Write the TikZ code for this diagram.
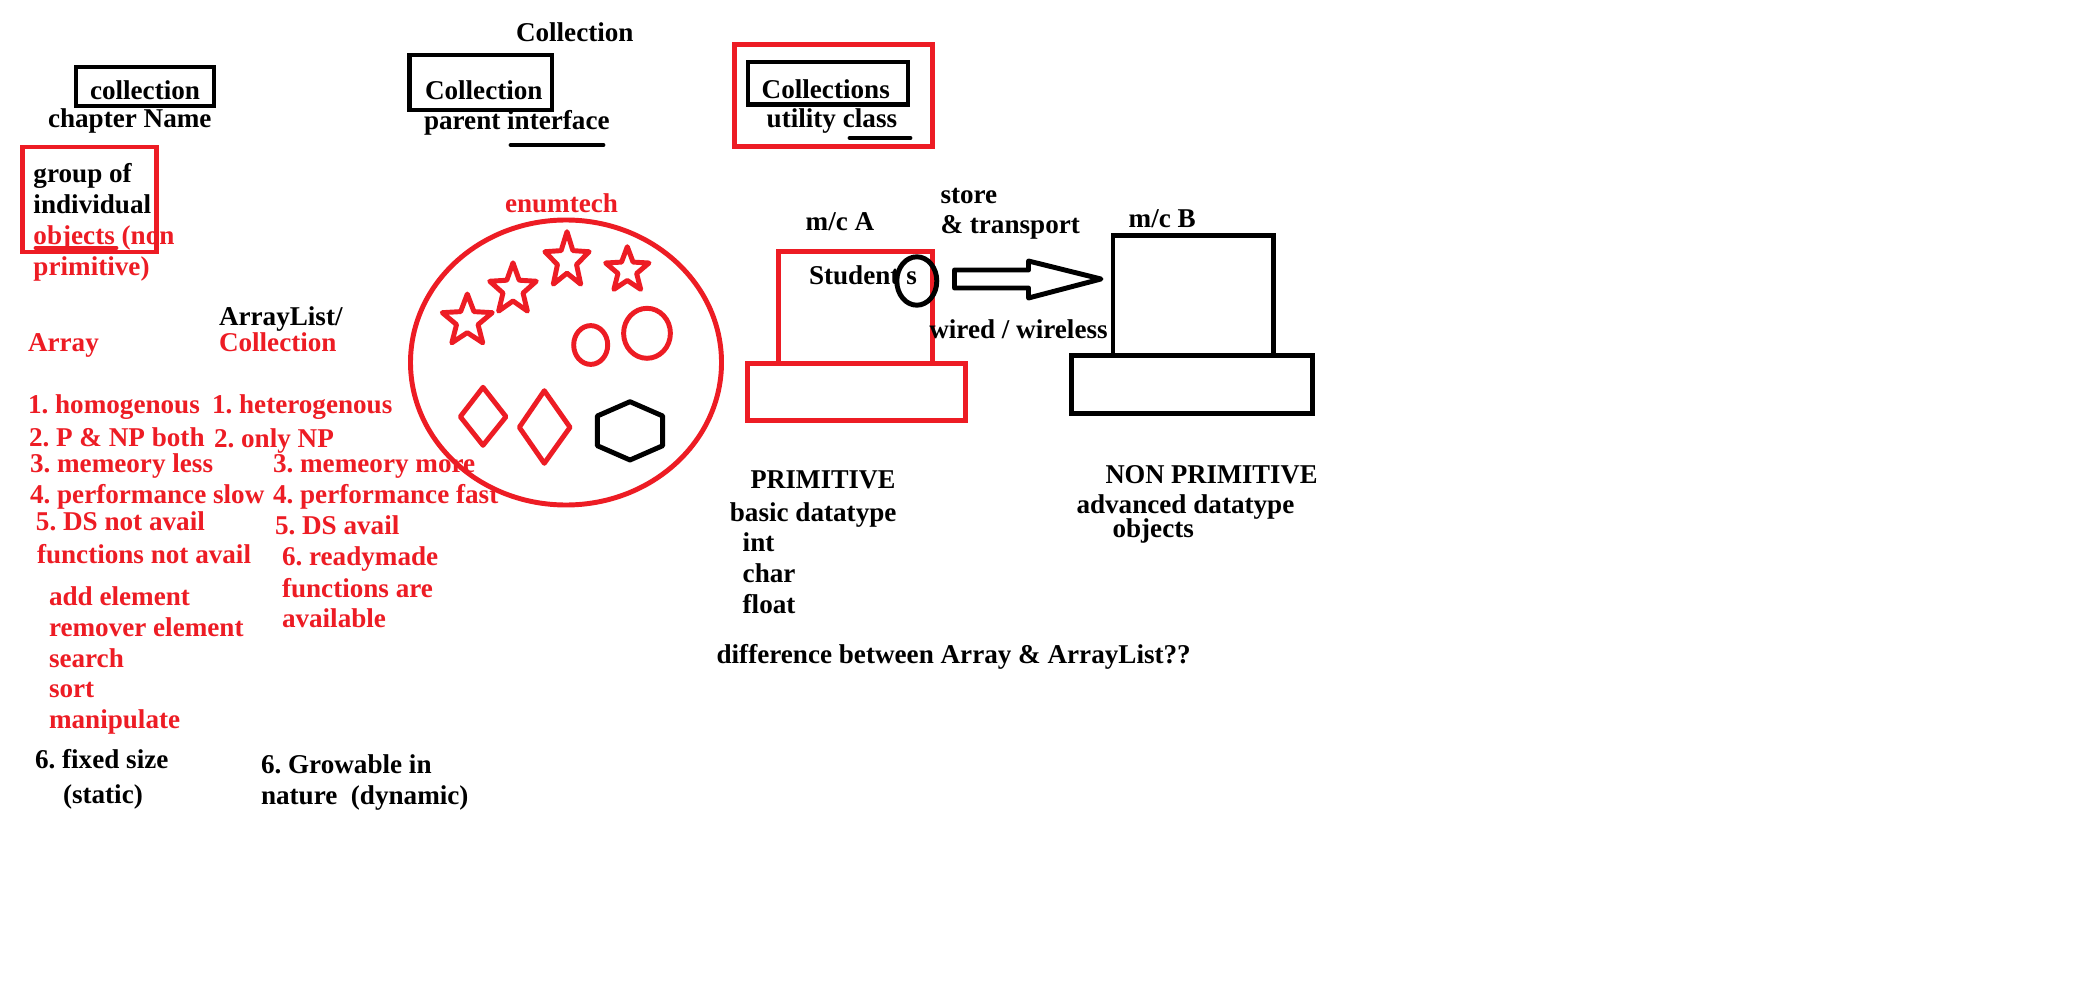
\documentclass[tikz,border=0pt]{standalone}
\usepackage{fontspec}
\setmainfont{Liberation Serif}
\definecolor{pred}{HTML}{ED1C24}
\frenchspacing
\tikzset{
  blk/.style={anchor=base west,inner sep=0pt,outer sep=0pt,text=black,yshift=-0.7pt,font=\frenchspacing\bfseries\fontsize{20.35}{24}\selectfont},
  rdt/.style={blk,text=pred},
  rline/.style={draw=pred,line width=3.7pt,miter limit=10},
  bline/.style={draw=black,line width=3.7pt},
  rsoft/.style={rline,line join=round},
  bsoft/.style={bline,line join=round},
  ulblack/.style={bline,line cap=round},
  ulred/.style={rline,line cap=round}
}
\newcommand{\starpoly}[5]{%
  \draw[#5] plot[samples at={0,...,9},variable=\t]
    ({#1+#3*(mod(\t,2)==0?1:0.43)*sin(36*\t)},{#2-#4*(mod(\t,2)==0?1:0.43)*cos(36*\t)}) -- cycle;}
\begin{document}
\begin{tikzpicture}[x=0.75pt,y=-0.75pt]
\useasboundingbox (0,0) rectangle (2088,984);
\fill[white] (0,0) rectangle (2088,984);
% boxes top
\draw[bline] (76,67) rectangle (214,106);
\draw[bline] (409.5,55) rectangle (552,110);
\draw[rline] (734.5,44.5) rectangle (932.5,146.5);
\draw[bline] (748,62) rectangle (908,104.5);
\draw[rline] (22.5,147) rectangle (156.5,252);
\draw[ulblack] (511,145) -- (603,145);
\draw[ulblack] (850,138) -- (910,138);
\draw[ulred] (36,248) -- (116,248);
% big circle and contents
\draw[rline] (566,362.5) ellipse [x radius=155.5,y radius=142.5];
\starpoly{467.3}{321}{26.3}{27}{rsoft}
\starpoly{513}{289.5}{24.5}{26.7}{rsoft}
\starpoly{567}{260.7}{23.3}{29}{rsoft}
\starpoly{627.3}{270.3}{22.8}{23.6}{rsoft}
\draw[rline] (590.7,345) ellipse [x radius=17,y radius=19.4];
\draw[rline] (647,333.3) ellipse [x radius=23.4,y radius=25];
\draw[rsoft] (483,387.3) -- (506,416.7) -- (483,445.3) -- (460.3,416.7) -- cycle;
\draw[rsoft] (544.3,390.7) -- (570,427.3) -- (544.3,463.3) -- (519.3,427.3) -- cycle;
\draw[bsoft] (630,401.7) -- (662.7,416) -- (662.7,445.7) -- (630,460) -- (597.3,445.7) -- (597.3,416) -- cycle;
% machines
\draw[rline] (778.4,363) |- (932.5,251.5) -- (932.5,363);
\draw[rline] (747.7,363.5) rectangle (965.3,420.5);
\draw[bline] (1113,355) |- (1273.4,235.5) -- (1273.4,355);
\draw[bline] (1071.5,355.5) rectangle (1312.8,413.5);
\draw[bsoft] (954.5,270) -- (1028.5,270) -- (1028.5,261) -- (1101,279) -- (1028.5,298) -- (1028.5,288) -- (954.5,288) -- cycle;
% texts
\node[blk] (t1) at (516,40.7) {Collection};
\node[blk] (t2) at (90,99) {collection};
\node[blk] (t3) at (48,127) {chapter Name};
\node[blk] (t4) at (425,99) {Collection};
\node[blk] (t5) at (424,129) {parent interface};
\node[blk] (t6) at (761.7,98) {Collections};
\node[blk] (t7) at (766.7,127) {utility class};
\node[blk] (t8) at (33.5,182) {group of};
\node[blk] (t9) at (33.5,213) {individual};
\node[rdt] (t10) at (33.5,244) {objects (non};
\node[rdt] (t11) at (33.5,275) {primitive)};
\node[blk] (t12) at (219,325) {ArrayList/};
\node[rdt] (t13) at (219,351) {Collection};
\node[rdt] (t14) at (28,351) {Array};
\node[rdt] (t15) at (505,212) {enumtech};
\node[rdt] (a1) at (28,413) {1. homogenous};
\node[rdt] (a2) at (212,413) {1. heterogenous};
\node[rdt] (b1) at (29,446) {2. P \& NP both};
\node[rdt] (b2) at (214,447) {2. only NP};
\node[rdt] (c1) at (30,472) {3. memeory less};
\node[rdt] (c2) at (273,472) {3. memeory more};
\node[rdt] (d1) at (30,503) {4. performance slow};
\node[rdt] (d2) at (273,503) {4. performance fast};
\node[rdt] (e1) at (36,530) {5. DS not avail};
\node[rdt] (e2) at (275,534) {5. DS avail};
\node[rdt] (f1) at (37,563) {functions not avail};
\node[rdt] (f2) at (282,565) {6. readymade};
\node[rdt] (f3) at (282,597) {functions are};
\node[rdt] (f4) at (282,627) {available};
\node[rdt] (g1) at (49,605) {add element};
\node[rdt] (g2) at (49,636) {remover element};
\node[rdt] (g3) at (49,667) {search};
\node[rdt] (g4) at (49,697) {sort};
\node[rdt] (g5) at (49,728) {manipulate};
\node[blk] (h1) at (35,768) {6. fixed size};
\node[blk] (h2) at (63,803) {(static)};
\node[blk] (h3) at (261,773) {6. Growable in};
\node[blk] (h4) at (261,804) {nature\ \ (dynamic)};
\node[blk] (m1) at (805.7,230) {m/c A};
\node[blk] (m2) at (940.5,203) {store};
\node[blk] (m3) at (940.5,233) {\& transport};
\node[blk] (m4) at (1128.7,227) {m/c B};
\node[blk] (m5) at (809,284) {Student s};
\node[blk] (m6) at (929.3,338) {wired / wireless};
\draw[bline] (916.8,281) ellipse [x radius=20,y radius=24.2];
\node[blk] (p1) at (750.6,488) {\scalebox{0.97}[1]{PRIMITIVE}};
\node[blk] (p2) at (729.9,520.7) {basic datatype};
\node[blk] (p3) at (742.7,550.7) {int};
\node[blk] (p4) at (742.7,582) {char};
\node[blk] (p5) at (742.7,612.7) {float};
\node[blk] (p6) at (716.6,662.7) {difference between Array \& ArrayList??};
\node[blk] (n1) at (1105.5,483) {\scalebox{0.98}[1]{NON PRIMITIVE}};
\node[blk] (n2) at (1076.5,512.7) {advanced datatype};
\node[blk] (n3) at (1112.5,536.7) {objects};
\end{tikzpicture}
\end{document}
